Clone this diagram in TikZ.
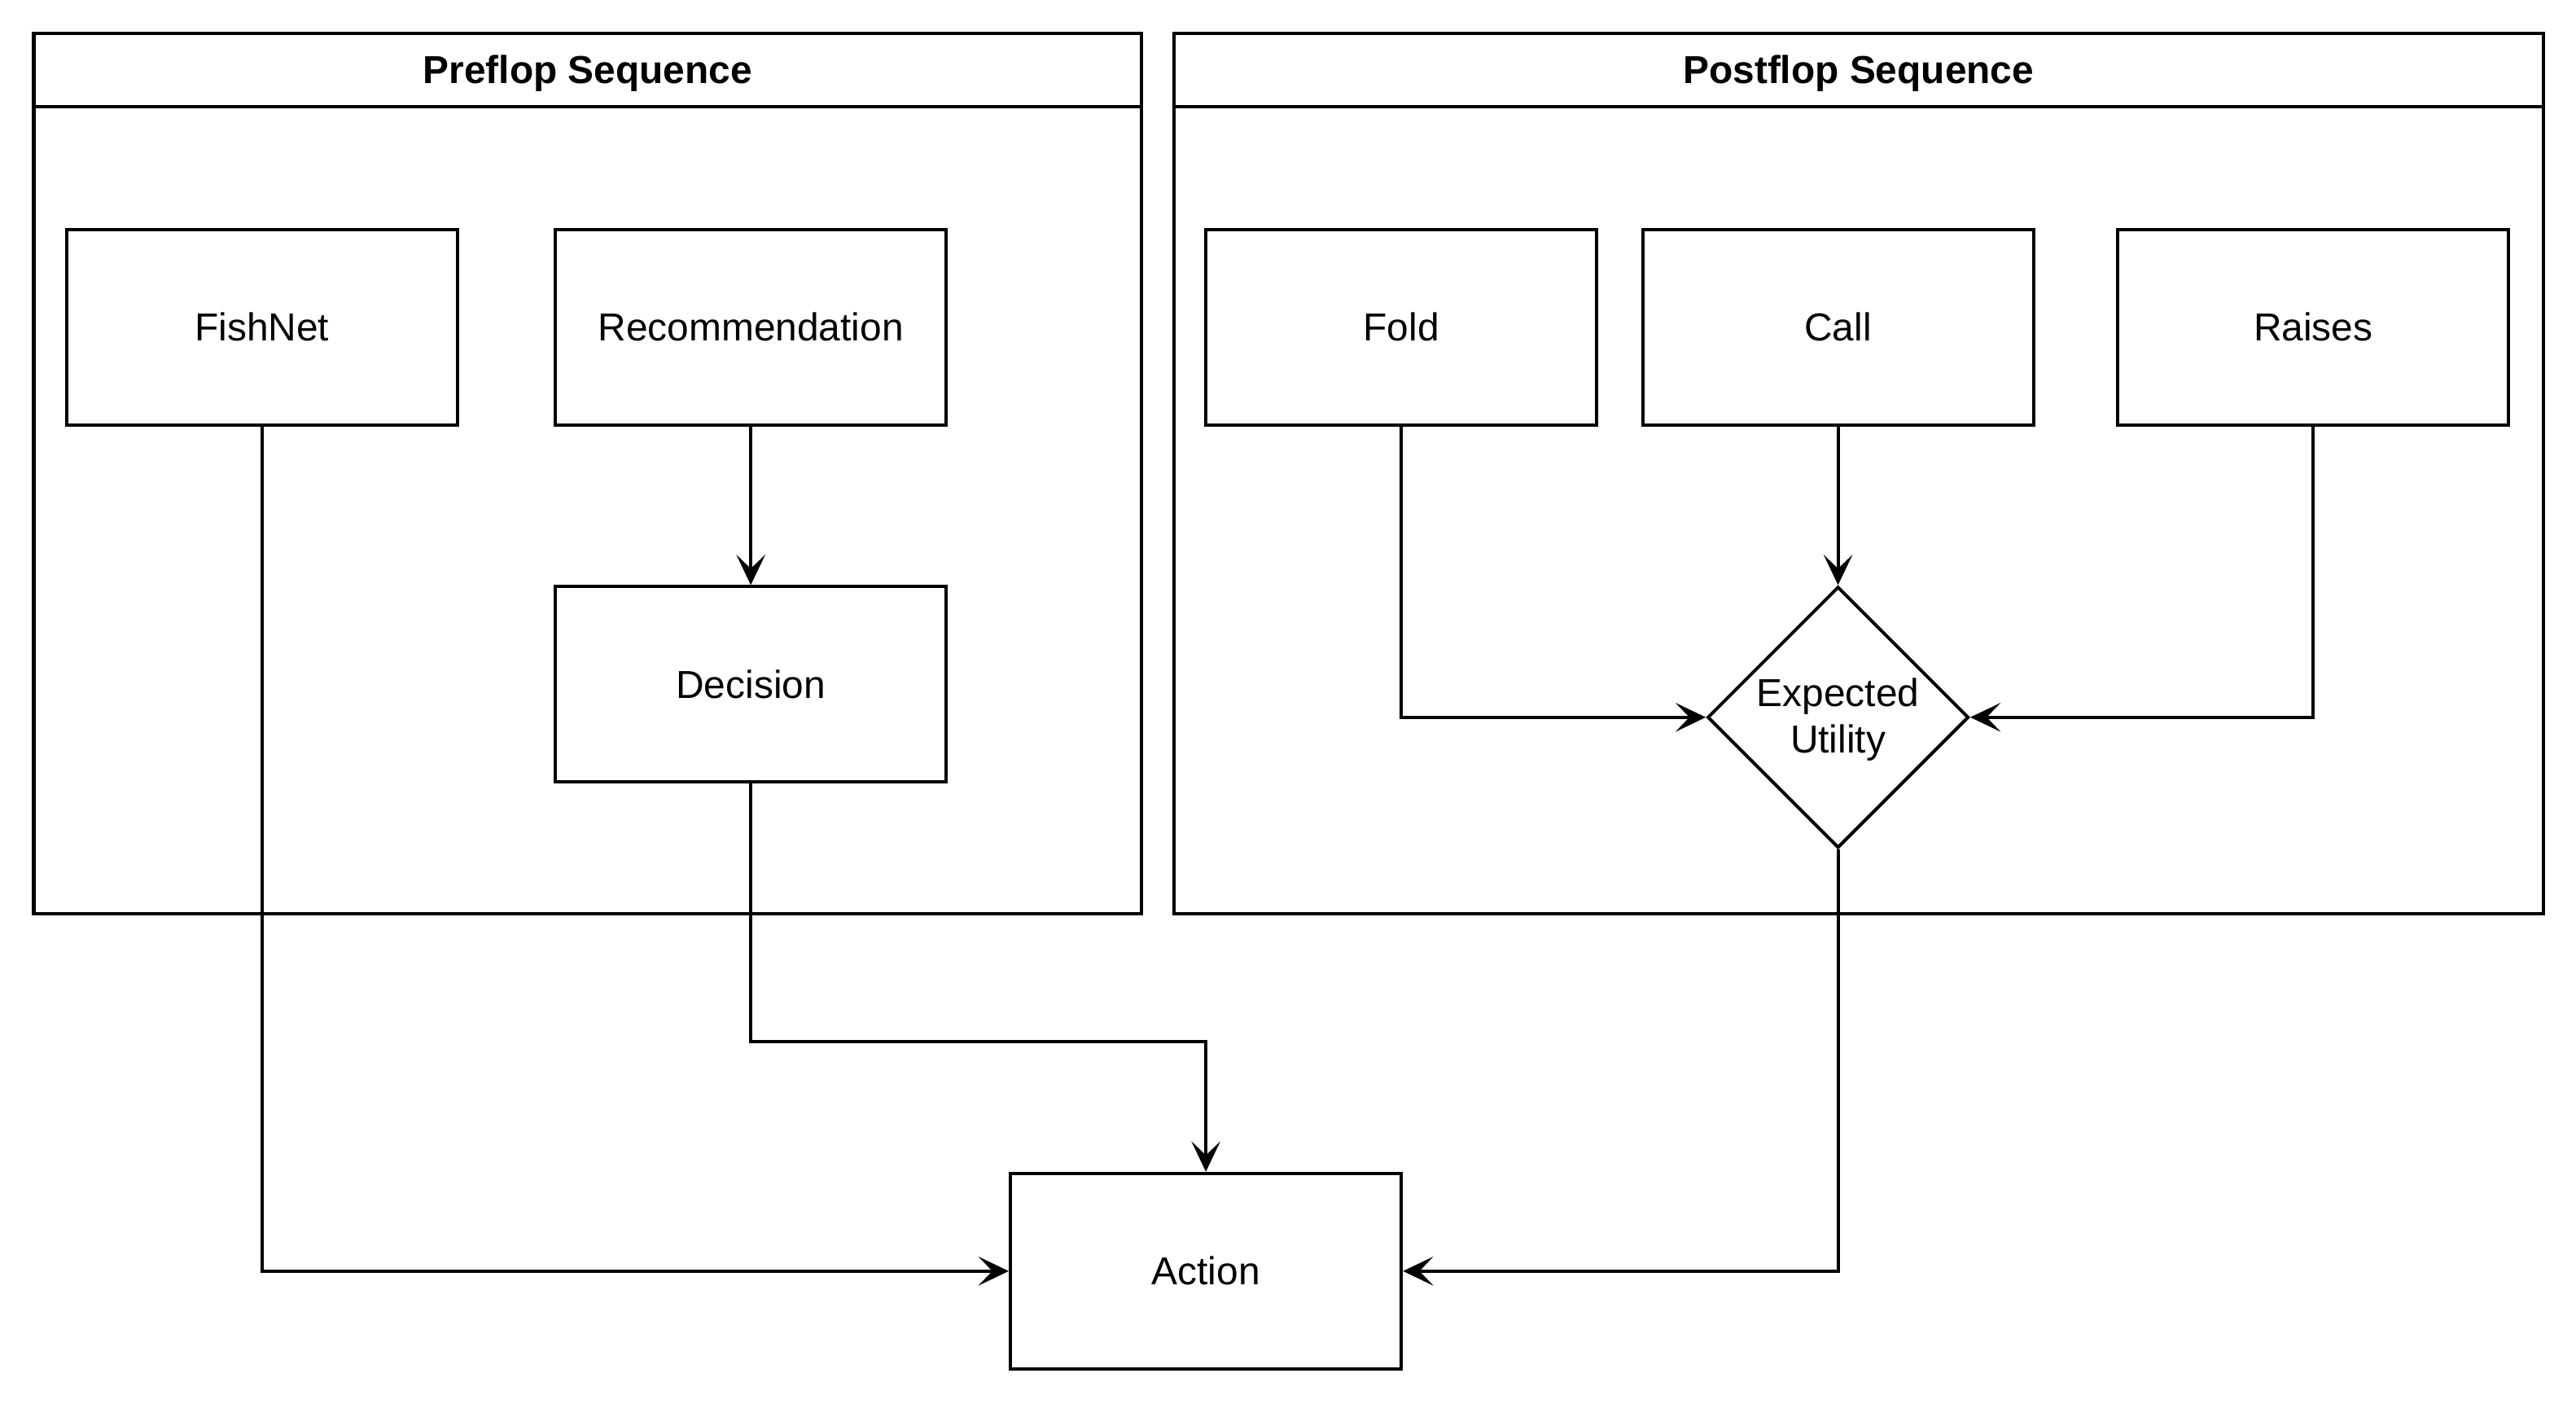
\documentclass[tikz,border=0pt]{standalone}
\usepackage{fontspec}
\setmainfont{Liberation Sans}
\usetikzlibrary{arrows.meta,shapes.geometric}
\begin{document}
\begin{tikzpicture}[x=0.02cm,y=-0.02cm,
  lw/.style={line width=1.13pt},
  txt/.style={font=\fontsize{13.5}{16.2}\selectfont, text=black},
  box/.style={draw, lw, rectangle, minimum width=4.76cm, minimum height=2.38cm, inner sep=0pt, txt},
  container/.style={draw, lw, rectangle, minimum height=10.71cm, inner sep=0pt},
  title/.style={txt, font=\fontsize{13.5}{16.2}\selectfont\bfseries},
  decision/.style={draw, lw, diamond, minimum width=3.18cm, minimum height=3.18cm, inner sep=0pt},
  arr/.style={lw, -{Stealth[length=10.5pt, width=10pt, inset=4.8pt]}},
]
\useasboundingbox (0,0) rectangle (1568,854);

% containers
\node[container, minimum width=13.49cm] (pre) at (357.75,288.25) {};
\node[container, minimum width=16.67cm] (post) at (1131.25,288.25) {};
\draw[lw] ([yshift=-0.91cm]pre.north west) -- ([yshift=-0.91cm]pre.north east);
\draw[lw] ([yshift=-0.91cm]post.north west) -- ([yshift=-0.91cm]post.north east);
\node[title] (pretitle) at (357.75,44.5) {Preflop Sequence};
\node[title] (posttitle) at (1131.25,44.5) {Postflop Sequence};

% boxes
\node[box] (fish) at (159.5,199) {FishNet};
\node[box] (rec) at (457,199) {Recommendation};
\node[box] (dec) at (457,416.5) {Decision};
\node[box] (fold) at (853,199) {Fold};
\node[box] (call) at (1118.8,199) {Call};
\node[box] (raises) at (1408,199) {Raises};
\node[box] (action) at (734,773.5) {Action};
\node[decision] (eu) at (1118.8,436.5) {};
\node[txt, align=center, inner sep=0pt] (eutext) at (1118.8,438) {Expected\\Utility};

% connectors
\coordinate (bend) at (457,634);
\draw[arr] (rec.south) -- (dec.north);
\draw[arr] (fish.south) |- (action.west);
\draw[arr] (dec.south) -- (bend) -| (action.north);
\draw[arr] (call.south) -- (eu.north);
\draw[arr] (fold.south) |- (eu.west);
\draw[arr] (raises.south) |- (eu.east);
\draw[arr] (eu.south) |- (action.east);
\end{tikzpicture}
\end{document}
